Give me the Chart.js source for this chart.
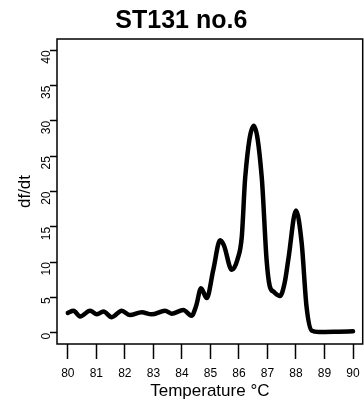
<!DOCTYPE html>
<html>
<head>
<meta charset="utf-8">
<script src="https://cdn.jsdelivr.net/npm/chart.js@4"></script>
<style>
  html, body { margin: 0; padding: 0; background: #fff; }
  #wrap { width: 364px; height: 405px; }
</style>
</head>
<body>
<div id="wrap"><canvas id="meltChart" width="364" height="405"></canvas></div>
<script>
// Melt curve readings (temperature in °C, df/dt)
const temps = [80.0, 80.2, 80.43, 80.78, 81.02, 81.25, 81.54, 81.89, 82.18, 82.59,
    82.94, 83.41, 83.64, 84.05, 84.34, 84.5, 84.67, 84.87, 85.1, 85.34,
    85.47, 85.75, 85.95, 86.1, 86.22, 86.52, 86.8, 86.97, 87.08, 87.22,
    87.44, 87.6, 87.74, 88.0, 88.2, 88.37, 88.55, 88.8, 89.5, 90.0];
const dfdt = [2.8, 3.1, 2.3, 3.1, 2.6, 3.0, 2.2, 3.1, 2.5, 2.9,
    2.6, 3.1, 2.7, 3.2, 2.4, 3.8, 6.3, 4.9, 8.9, 13.1,
    12.4, 8.9, 10.4, 13.6, 22.0, 29.3, 22.0, 10.3, 6.6, 5.8,
    5.2, 7.0, 10.6, 17.3, 12.7, 3.7, 0.3, 0.1, 0.15, 0.2];

// Axis ticks
const xTicks = [80, 81, 82, 83, 84, 85, 86, 87, 88, 89, 90];
const yTicks = [0, 5, 10, 15, 20, 25, 30, 35, 40];

const fontFamily = '"Liberation Sans", Arial, Helvetica, sans-serif';

// Draw the box around the plot region, R style
const boxPlugin = {
    id: 'plotBox',
    afterDraw(chart) {
        const { ctx, chartArea } = chart;
        ctx.save();
        ctx.strokeStyle = '#000';
        ctx.lineWidth = 1.5;
        ctx.strokeRect(chartArea.left, chartArea.top,
            chartArea.right - chartArea.left, chartArea.bottom - chartArea.top);
        ctx.restore();
    }
};

const ctx = document.getElementById('meltChart').getContext('2d');
const meltChart = new Chart(ctx, {
    type: 'line',
    data: {
        datasets: [{
            data: temps.map((t, i) => ({ x: t, y: dfdt[i] })),
            borderColor: '#000',
            borderWidth: 4.5,
            borderCapStyle: 'round',
            borderJoinStyle: 'round',
            pointRadius: 0,
            cubicInterpolationMode: 'monotone',
            fill: false
        }]
    },
    options: {
        responsive: false,
        animation: false,
        layout: { padding: { left: 0, right: 1.3, top: 0, bottom: 0 } },
        plugins: {
            legend: { display: false },
            tooltip: { enabled: false },
            title: {
                display: true,
                text: 'ST131 no.6',
                color: '#000',
                font: { family: fontFamily, size: 25, weight: 'bold' },
                padding: { top: 6, bottom: 3 }
            }
        },
        scales: {
            x: {
                type: 'linear',
                min: 79.62,
                max: 90.34,
                afterBuildTicks(scale) {
                    scale.ticks = xTicks.map(v => ({ value: v }));
                },
                afterFit(scale) {
                    scale.height = 61;
                    scale.paddingLeft = 0;
                    scale.paddingRight = 0;
                },
                ticks: {
                    color: '#000',
                    font: { family: fontFamily, size: 12 },
                    padding: 7,
                    maxRotation: 0,
                    autoSkip: false
                },
                grid: {
                    drawOnChartArea: false,
                    drawTicks: true,
                    tickLength: 15,
                    tickWidth: 1.5,
                    tickColor: '#000'
                },
                border: { display: false },
                title: {
                    display: true,
                    text: 'Temperature °C',
                    color: '#000',
                    font: { family: fontFamily, size: 17 },
                    padding: { top: 0, bottom: 3 }
                }
            },
            y: {
                type: 'linear',
                min: -1.6,
                max: 41.6,
                afterBuildTicks(scale) {
                    scale.ticks = yTicks.map(v => ({ value: v }));
                },
                afterFit(scale) { scale.width = 57; },
                ticks: {
                    color: '#000',
                    font: { family: fontFamily, size: 12 },
                    padding: 3,
                    minRotation: 90,
                    maxRotation: 90,
                    autoSkip: false
                },
                grid: {
                    drawOnChartArea: false,
                    drawTicks: true,
                    tickLength: 7,
                    tickWidth: 1.5,
                    tickColor: '#000'
                },
                border: { display: false },
                title: {
                    display: true,
                    text: 'df/dt',
                    color: '#000',
                    font: { family: fontFamily, size: 17 },
                    padding: { top: 15, bottom: 0 }
                }
            }
        }
    },
    plugins: [boxPlugin]
});
</script>
</body>
</html>
